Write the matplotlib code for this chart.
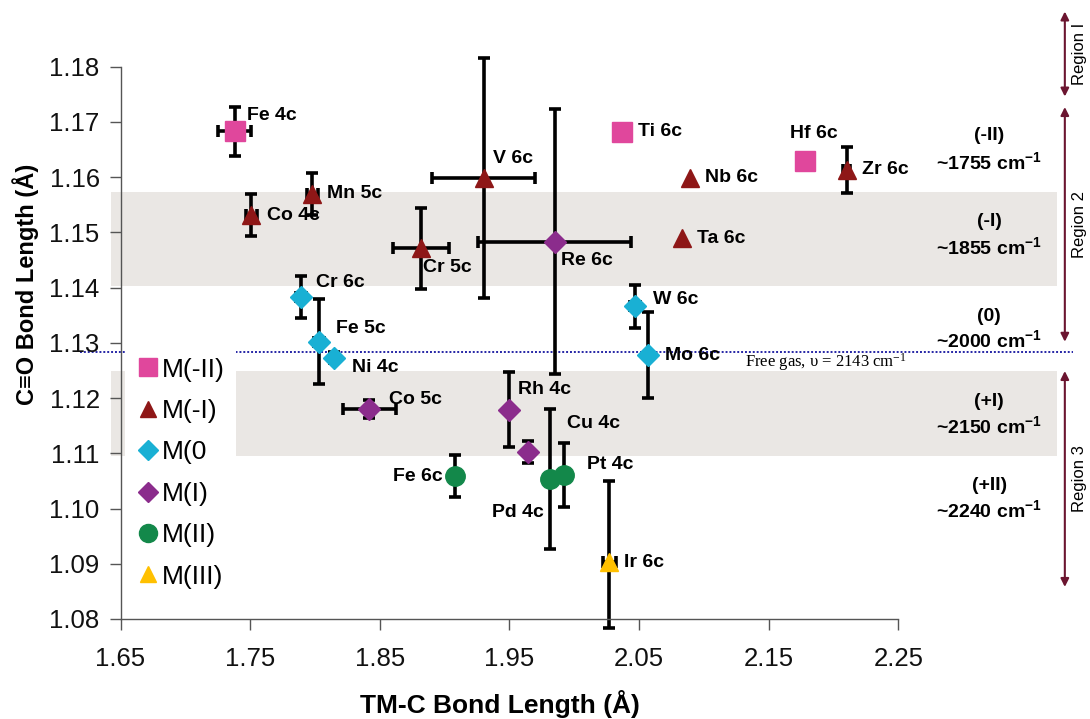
import matplotlib
matplotlib.use("Agg")
import matplotlib.pyplot as plt
from matplotlib.lines import Line2D
from matplotlib.patches import Rectangle

plt.rcParams['font.family'] = ['Liberation Sans', 'DejaVu Sans']
plt.rcParams['mathtext.default'] = 'regular'

# data
complexes = ["Fe 4c", "Ti 6c", "Hf 6c",
             "Co 4c", "Mn 5c", "Cr 5c", "V 6c", "Nb 6c", "Ta 6c", "Zr 6c",
             "Cr 6c", "Fe 5c", "Ni 4c", "W 6c", "Mo 6c",
             "Re 6c", "Co 5c", "Rh 4c", "Cu 4c",
             "Fe 6c", "Pd 4c", "Pt 4c",
             "Ir 6c"]
ox_state = ["M(-II)"] * 3 + ["M(-I)"] * 7 + ["M(0"] * 5 + ["M(I)"] * 4 + ["M(II)"] * 3 + ["M(III)"]
tmc = [1.738, 2.037, 2.178,
       1.751, 1.798, 1.882, 1.930, 2.089, 2.083, 2.210,
       1.789, 1.803, 1.815, 2.047, 2.057,
       1.985, 1.842, 1.950, 1.9645,
       1.908, 1.981, 1.992,
       2.027]
co = [1.1683, 1.1682, 1.1630,
      1.1531, 1.1570, 1.1471, 1.1598, 1.1598, 1.1489, 1.1613,
      1.1383, 1.1302, 1.1273, 1.1366, 1.1278,
      1.1483, 1.1180, 1.1179, 1.1103,
      1.1059, 1.1053, 1.1060,
      1.0903]
tmc_err = [0.0128, 0.0, 0.0,
           0.004, 0.004, 0.0216, 0.040, 0.0, 0.0, 0.003,
           0.004, 0.004, 0.002, 0.004, 0.002,
           0.059, 0.0205, 0.002, 0.002,
           0.002, 0.0, 0.003,
           0.005]
co_err_lo = [0.0044, 0.001, 0.0005,
             0.0038, 0.0038, 0.0073, 0.0217, 0.0, 0.0, 0.0041,
             0.0038, 0.0077, 0.001, 0.0039, 0.0078,
             0.024, 0.0016, 0.0068, 0.002,
             0.0038, 0.0127, 0.0058,
             0.012]
co_err_hi = [0.0044, 0.001, 0.0005,
             0.0038, 0.0038, 0.0073, 0.0217, 0.0, 0.0, 0.0041,
             0.0038, 0.0077, 0.001, 0.0039, 0.0078,
             0.024, 0.0016, 0.0068, 0.002,
             0.0038, 0.0127, 0.0058,
             0.0147]

free_gas_co = 1.1284
bands = [(1.1403, 1.1573), (1.1095, 1.1249)]
band_notes = [("(-II)", "~1755 cm$^{-1}$", 1.1676, 1.1628),
              ("(-I)", "~1855 cm$^{-1}$", 1.1519, 1.1474),
              ("(0)", "~2000 cm$^{-1}$", 1.1347, 1.1305),
              ("(+I)", "~2150 cm$^{-1}$", 1.1193, 1.1149),
              ("(+II)", "~2240 cm$^{-1}$", 1.1042, 1.0997)]
regions = [("Region I", 1.1900, 1.1746), ("Region 2", 1.1727, 1.1302), ("Region 3", 1.1249, 1.0858)]

# styles / layout
styles = {
    "M(-II)": dict(marker="s", color="#E0479C", ms=14),
    "M(-I)": dict(marker="^", color="#8E1717", ms=13),
    "M(0": dict(marker="D", color="#19B0D4", ms=11),
    "M(I)": dict(marker="D", color="#8B2C8C", ms=11),
    "M(II)": dict(marker="o", color="#13884A", ms=14),
    "M(III)": dict(marker="^", color="#FFC000", ms=13),
}
label_pos = {
    "Fe 4c": (1.7478, 1.1712, "left"), "Co 4c": (1.7632, 1.1531, "left"),
    "Mn 5c": (1.8095, 1.1570, "left"), "Cr 6c": (1.8005, 1.1410, "left"),
    "Fe 5c": (1.8159, 1.1326, "left"), "Cr 5c": (1.8830, 1.1436, "left"),
    "V 6c": (1.9370, 1.1634, "left"), "Ni 4c": (1.8284, 1.1256, "left"),
    "Co 5c": (1.8568, 1.1197, "left"), "Fe 6c": (1.8984, 1.1058, "right"),
    "Pd 4c": (1.9762, 1.0993, "right"), "Rh 4c": (1.9566, 1.1216, "left"),
    "Cu 4c": (1.9942, 1.1154, "left"), "Pt 4c": (2.0099, 1.1080, "left"),
    "Ir 6c": (2.0386, 1.0903, "left"), "Mo 6c": (2.0702, 1.1278, "left"),
    "Re 6c": (1.9894, 1.1450, "left"), "Ti 6c": (2.0494, 1.1682, "left"),
    "Nb 6c": (2.1008, 1.1599, "left"), "Ta 6c": (2.0945, 1.1489, "left"),
    "Hf 6c": (2.1852, 1.1679, "center"), "Zr 6c": (2.2216, 1.1614, "left"),
    "W 6c": (2.0607, 1.1378, "left"),
}

fig = plt.figure(figsize=(10.9, 7.19), dpi=100)
ax = fig.add_axes([0.1106, 0.1391, 0.7136, 0.7681])
ax.set_xlim(1.65, 2.25)
ax.set_ylim(1.08, 1.18)

# grey bands (run a bit past the axes like the original)
for lo, hi in bands:
    ax.add_patch(Rectangle((1.6424, lo), 2.372 - 1.6424, hi - lo, facecolor="#EAE7E4",
                           edgecolor="none", zorder=0, clip_on=False))

ax.plot([1.619, 2.385], [free_gas_co, free_gas_co], color="#2626A6", lw=1.4,
        ls=(0, (1, 1)), zorder=1, clip_on=False)
ax.text(2.1314, 1.1266, "Free gas, \u03c5 = 2143 cm$^{-1}$", fontsize=12,
        family=["Liberation Serif", "DejaVu Serif"], va="center", ha="left")

# error bars then markers
for i in range(len(complexes)):
    xe = tmc_err[i] if tmc_err[i] > 0 else None
    ye = [[co_err_lo[i]], [co_err_hi[i]]] if co_err_hi[i] > 0 else None
    if xe is None and ye is None:
        continue
    ax.errorbar(tmc[i], co[i], xerr=xe, yerr=ye, fmt="none", ecolor="black",
                elinewidth=2.6, capsize=4.5, capthick=2.6, zorder=2, clip_on=False)

for state, st in styles.items():
    xs = [tmc[i] for i in range(len(tmc)) if ox_state[i] == state]
    ys = [co[i] for i in range(len(co)) if ox_state[i] == state]
    ax.plot(xs, ys, ls="none", marker=st["marker"], color=st["color"], ms=st["ms"],
            mec=st["color"], zorder=3, clip_on=False)

for name in complexes:
    lx, ly, ha = label_pos[name]
    ax.text(lx, ly, name, fontsize=14, fontweight="bold", ha=ha, va="center", zorder=4)

# notes on the right
for top, bottom, y1, y2 in band_notes:
    ax.text(2.320, y1, top, fontsize=14, fontweight="bold", ha="center", va="center", clip_on=False)
    ax.text(2.320, y2, bottom, fontsize=14, fontweight="bold", ha="center", va="center", clip_on=False)

for name, y1, y2 in regions:
    ax.annotate("", xy=(2.3784, y1), xytext=(2.3784, y2),
                arrowprops=dict(arrowstyle="<|-|>", color="#6B1530", lw=1.5,
                                mutation_scale=12, shrinkA=0, shrinkB=0),
                annotation_clip=False)
    ax.text(2.3895, (y1 + y2) / 2, name, rotation=90, fontsize=12,
            ha="center", va="center", clip_on=False)

handles = [Line2D([], [], ls="none", marker=st["marker"], color=st["color"],
                  ms=st["ms"] - 1, mec=st["color"]) for st in styles.values()]
leg = ax.legend(handles, list(styles.keys()), loc="center left", bbox_to_anchor=(0.006, 0.264),
                borderaxespad=0, frameon=True, facecolor="white", edgecolor="none",
                framealpha=1, fontsize=19, handletextpad=0.1, handlelength=0.9,
                labelspacing=0.66, borderpad=0.4, fancybox=False)
leg.set_zorder(5)

for side in ["top", "right"]:
    ax.spines[side].set_visible(False)
for side in ["left", "bottom"]:
    ax.spines[side].set_color("#555555")
    ax.spines[side].set_linewidth(1)

ax.set_xticks([1.65, 1.75, 1.85, 1.95, 2.05, 2.15, 2.25])
ax.set_yticks([1.08, 1.09, 1.10, 1.11, 1.12, 1.13, 1.14, 1.15, 1.16, 1.17, 1.18])
ax.set_yticklabels(["1.08", "1.09", "1.10", "1.11", "1.12", "1.13", "1.14", "1.15", "1.16", "1.17", "1.18"])
ax.tick_params(direction="out", length=8, width=1, color="#555555", labelsize=18.5, labelcolor="#111111")
ax.tick_params(axis="x", pad=12)
ax.tick_params(axis="y", pad=7)

ax.set_xlabel("TM-C Bond Length (\u00c5)", fontsize=19, fontweight="bold")
ax.xaxis.set_label_coords(0.488, -0.128)
ax.set_ylabel("C\u2261O Bond Length (\u00c5)", fontsize=17, fontweight="bold")
ax.yaxis.set_label_coords(-0.105, 0.605)

fig.savefig("out.png", dpi=100)
